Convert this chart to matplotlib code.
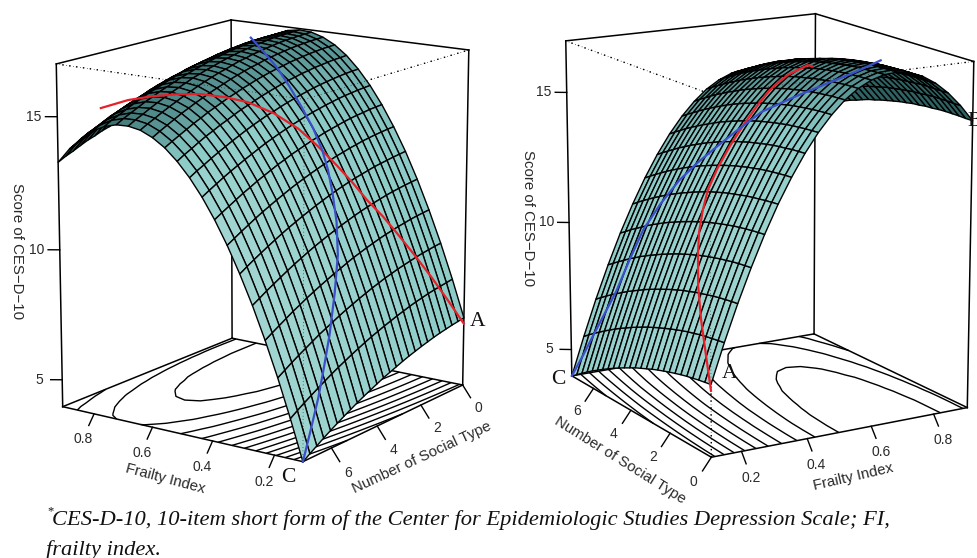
import numpy as np
import matplotlib
matplotlib.use("Agg")
import matplotlib.pyplot as plt
from matplotlib.colors import LinearSegmentedColormap

W, H = 977, 558

# ─── Data ───────────────────────────────────────────────────────────
frailty = [0.11, 0.15, 0.19, 0.23, 0.27, 0.31, 0.35, 0.39, 0.43, 0.47, 0.51,
           0.55, 0.59, 0.63, 0.67, 0.71, 0.75, 0.79, 0.83, 0.87, 0.91]
social = [0.0, 0.288, 0.576, 0.864, 1.152, 1.44, 1.728, 2.016, 2.304, 2.592, 2.88, 3.168, 3.456,
          3.744, 4.032, 4.32, 4.608, 4.896, 5.184, 5.472, 5.76, 6.048, 6.336, 6.624, 6.912, 7.2]

# one row per frailty value, one column per number of social types
score = [
    [6.62, 6.58, 6.54, 6.49, 6.44, 6.38, 6.31, 6.24, 6.16, 6.08, 5.99, 5.89, 5.79, 5.69, 5.57, 5.45, 5.33, 5.20, 5.06, 4.92, 4.77, 4.62, 4.46, 4.29, 4.12, 3.94],
    [8.06, 8.02, 7.98, 7.94, 7.89, 7.83, 7.77, 7.70, 7.62, 7.54, 7.45, 7.36, 7.26, 7.16, 7.05, 6.93, 6.81, 6.68, 6.55, 6.41, 6.26, 6.11, 5.95, 5.79, 5.62, 5.44],
    [9.39, 9.36, 9.32, 9.28, 9.23, 9.17, 9.11, 9.05, 8.97, 8.90, 8.81, 8.72, 8.62, 8.52, 8.41, 8.30, 8.18, 8.05, 7.92, 7.79, 7.64, 7.49, 7.34, 7.18, 7.01, 6.84],
    [10.61, 10.58, 10.55, 10.51, 10.46, 10.41, 10.35, 10.29, 10.22, 10.14, 10.06, 9.97, 9.88, 9.78, 9.67, 9.56, 9.44, 9.32, 9.19, 9.06, 8.91, 8.77, 8.61, 8.45, 8.29, 8.12],
    [11.73, 11.70, 11.67, 11.63, 11.59, 11.54, 11.48, 11.42, 11.35, 11.28, 11.20, 11.11, 11.02, 10.92, 10.82, 10.71, 10.60, 10.48, 10.35, 10.22, 10.08, 9.93, 9.78, 9.63, 9.46, 9.30],
    [12.74, 12.71, 12.68, 12.64, 12.60, 12.56, 12.50, 12.44, 12.38, 12.31, 12.23, 12.15, 12.06, 11.96, 11.86, 11.75, 11.64, 11.52, 11.40, 11.27, 11.13, 10.99, 10.84, 10.69, 10.53, 10.36],
    [13.63, 13.61, 13.58, 13.55, 13.51, 13.47, 13.41, 13.36, 13.29, 13.23, 13.15, 13.07, 12.98, 12.89, 12.79, 12.69, 12.58, 12.46, 12.34, 12.21, 12.08, 11.94, 11.79, 11.64, 11.48, 11.32],
    [14.42, 14.40, 14.38, 14.34, 14.31, 14.27, 14.22, 14.16, 14.10, 14.04, 13.96, 13.89, 13.80, 13.71, 13.62, 13.51, 13.41, 13.29, 13.17, 13.05, 12.91, 12.78, 12.63, 12.48, 12.33, 12.17],
    [15.10, 15.08, 15.06, 15.03, 15.00, 14.96, 14.91, 14.86, 14.80, 14.74, 14.67, 14.59, 14.51, 14.42, 14.33, 14.23, 14.13, 14.01, 13.89, 13.77, 13.64, 13.51, 13.37, 13.22, 13.07, 12.91],
    [15.67, 15.66, 15.64, 15.61, 15.58, 15.54, 15.50, 15.45, 15.39, 15.33, 15.26, 15.19, 15.11, 15.02, 14.94, 14.84, 14.74, 14.63, 14.51, 14.39, 14.26, 14.13, 13.99, 13.84, 13.70, 13.54],
    [16.14, 16.12, 16.11, 16.08, 16.05, 16.02, 15.97, 15.93, 15.87, 15.82, 15.75, 15.68, 15.60, 15.52, 15.43, 15.33, 15.24, 15.13, 15.01, 14.90, 14.77, 14.65, 14.51, 14.36, 14.22, 14.06],
    [16.49, 16.48, 16.47, 16.44, 16.42, 16.38, 16.34, 16.30, 16.24, 16.19, 16.13, 16.06, 15.99, 15.90, 15.82, 15.72, 15.63, 15.52, 15.41, 15.30, 15.17, 15.05, 14.91, 14.77, 14.63, 14.48],
    [16.73, 16.72, 16.71, 16.69, 16.67, 16.64, 16.60, 16.56, 16.51, 16.46, 16.39, 16.33, 16.26, 16.18, 16.10, 16.00, 15.91, 15.81, 15.70, 15.59, 15.47, 15.35, 15.21, 15.07, 14.93, 14.78],
    [16.87, 16.86, 16.85, 16.83, 16.82, 16.79, 16.75, 16.71, 16.66, 16.62, 16.55, 16.50, 16.42, 16.34, 16.27, 16.18, 16.09, 15.99, 15.88, 15.77, 15.65, 15.53, 15.40, 15.26, 15.13, 14.98],
    [16.90, 16.89, 16.88, 16.87, 16.86, 16.83, 16.79, 16.76, 16.71, 16.67, 16.61, 16.55, 16.48, 16.40, 16.33, 16.24, 16.16, 16.05, 15.95, 15.85, 15.73, 15.61, 15.48, 15.34, 15.21, 15.06],
    [16.82, 16.81, 16.80, 16.79, 16.78, 16.76, 16.72, 16.69, 16.65, 16.61, 16.55, 16.50, 16.43, 16.35, 16.28, 16.19, 16.11, 16.01, 15.91, 15.81, 15.69, 15.58, 15.45, 15.32, 15.19, 15.04],
    [16.63, 16.62, 16.62, 16.61, 16.60, 16.58, 16.55, 16.52, 16.48, 16.44, 16.38, 16.33, 16.27, 16.19, 16.13, 16.04, 15.96, 15.86, 15.76, 15.67, 15.55, 15.44, 15.31, 15.18, 15.06, 14.91],
    [16.33, 16.32, 16.32, 16.32, 16.31, 16.29, 16.26, 16.24, 16.19, 16.16, 16.11, 16.06, 16.00, 15.92, 15.86, 15.78, 15.70, 15.61, 15.50, 15.41, 15.30, 15.19, 15.07, 14.94, 14.81, 14.67],
    [15.92, 15.92, 15.92, 15.92, 15.92, 15.89, 15.87, 15.85, 15.81, 15.78, 15.72, 15.68, 15.62, 15.55, 15.49, 15.40, 15.33, 15.24, 15.14, 15.05, 14.94, 14.84, 14.71, 14.58, 14.46, 14.32],
    [15.40, 15.40, 15.41, 15.41, 15.41, 15.39, 15.36, 15.35, 15.31, 15.28, 15.23, 15.19, 15.13, 15.06, 15.00, 14.92, 14.86, 14.76, 14.67, 14.58, 14.47, 14.37, 14.25, 14.12, 14.01, 13.87],
    [14.78, 14.78, 14.79, 14.79, 14.79, 14.78, 14.75, 14.74, 14.70, 14.68, 14.63, 14.59, 14.53, 14.47, 14.41, 14.33, 14.27, 14.18, 14.08, 14.00, 13.89, 13.80, 13.68, 13.55, 13.44, 13.30],
]

red_f = [0.11, 0.128, 0.147, 0.17, 0.198, 0.22, 0.25, 0.28, 0.32, 0.37, 0.42, 0.48, 0.54, 0.59, 0.645, 0.695, 0.745, 0.79, 0.84]
red_s = [0.0, 0.52, 1.05, 1.55, 2.0, 2.3, 2.6, 2.82, 3.0, 3.18, 3.35, 3.62, 3.95, 4.25, 4.6, 4.95, 5.35, 5.8, 6.3]
red_z = [6.39, 7.45, 8.5, 9.5, 10.45, 11.1, 11.75, 12.4, 13.05, 13.75, 14.35, 14.9, 15.3, 15.48, 15.6, 15.6, 15.55, 15.45, 15.2]
blue_f = [0.11, 0.12, 0.13, 0.143, 0.156, 0.173, 0.193, 0.225, 0.262, 0.30, 0.34, 0.39, 0.448, 0.52, 0.592, 0.66, 0.724]
blue_s = [7.2, 6.75, 6.3, 5.88, 5.49, 5.05, 4.65, 4.28, 3.96, 3.65, 3.37, 3.1, 2.85, 2.43, 2.03, 1.72, 1.48]
blue_z = [3.95, 4.9, 5.9, 6.9, 7.85, 9.2, 10.45, 11.5, 12.4, 13.1, 13.7, 14.35, 15.0, 15.55, 16.04, 16.45, 16.86]

f_ticks = [0.2, 0.4, 0.6, 0.8]
s_ticks = [0, 2, 4, 6]
z_ticks = [5, 10, 15]
levels = [5, 6, 7, 8, 9, 10, 11, 12, 13, 14, 15, 16]

# ─── Styling ────────────────────────────────────────────────────────
zlo, zhi = 3.95, 16.95
plt.rcParams["font.family"] = "Liberation Sans"
fig = plt.figure(figsize=(W / 100, H / 100), dpi=100)
cmap = LinearSegmentedColormap.from_list("teal", [(0, "#2f6262"), (0.3, "#3b7070"), (0.72, "#5c9898"),
                                                  (0.82, "#8ccbc7"), (0.93, "#c5e6e4"), (1, "#d0ecea")])
TXT = "#2a2a2a"
F, S = np.meshgrid(frailty, social, indexing="ij")
Z = np.array(score)


def px(x, y):
    return x / W, 1 - y / H


def panel(cx, cy, size, azim, elev, light, fnear, snear, corner, tick_dir):
    ax = fig.add_axes([(cx - size / 2) / W, 1 - (cy + size / 2) / H, size / W, size / H],
                      projection="3d", computed_zorder=False)
    ax.patch.set_alpha(0)
    ax.set_axis_off()
    ax.view_init(elev=elev, azim=azim)
    ax.set_box_aspect((1, 1, 1.2))
    f0, f1, s0, s1 = frailty[0], frailty[-1], social[0], social[-1]
    ax.set_xlim(f0, f1)
    ax.set_ylim(s0, s1)
    ax.set_zlim(zlo, zhi)
    ffar = f0 + f1 - fnear
    sfar = s0 + s1 - snear
    fr, sr, zr = f1 - f0, s1 - s0, zhi - zlo

    # facet colour comes from the slope towards a light
    zx, zy = np.gradient(Z / zr * 1.2, np.array(frailty) / fr, np.array(social) / sr)
    norm = np.sqrt(zx ** 2 + zy ** 2 + 1)
    t = (-zx * light[0] - zy * light[1] + light[2]) / norm
    ax.plot_surface(F, S, Z, facecolors=cmap(np.clip(t, 0, 1)), rstride=1, cstride=1,
                    shade=False, edgecolor="k", linewidth=1.0, zorder=3)
    ax.contour(F, S, Z, levels=levels, zdir="z", offset=zlo, colors="k", linewidths=1.0, zorder=2)

    # box
    box = dict(color="k", lw=1.1, zorder=1)
    for a, b in [((fnear, snear), (ffar, snear)), ((fnear, snear), (fnear, sfar)),
                 ((ffar, sfar), (ffar, snear)), ((ffar, sfar), (fnear, sfar))]:
        ax.plot([a[0], b[0]], [a[1], b[1]], [zlo, zlo], **box)
    for a, b in [((ffar, sfar), (ffar, snear)), ((ffar, sfar), (fnear, sfar))]:
        ax.plot([a[0], b[0]], [a[1], b[1]], [zhi, zhi], **box)
    for a in [(ffar, sfar), (ffar, snear), (fnear, sfar)]:
        ax.plot([a[0]] * 2, [a[1]] * 2, [zlo, zhi], **box)
    for z_order, lw in [(1, 1.0), (5, 0.5)]:
        dots = dict(color="k", lw=lw, ls=(0, (1, 4)), zorder=z_order)
        ax.plot([fnear, fnear], [snear, snear], [zlo, zhi], **dots)
        ax.plot([fnear, ffar], [snear, snear], [zhi, zhi], **dots)
        ax.plot([fnear, fnear], [snear, sfar], [zhi, zhi], **dots)

    ax.plot(red_f, red_s, red_z, color="#e8202a", lw=1.6, zorder=6)
    ax.plot(blue_f, blue_s, blue_z, color="#3a4fc8", lw=1.6, zorder=6)

    # ticks
    sgn_s = 1 if snear > s0 else -1
    sgn_f = 1 if fnear > f0 else -1
    for v in f_ticks:
        ax.plot([v, v], [snear, snear + sgn_s * 0.03 * sr], [zlo, zlo - 0.028 * zr], color="k", lw=1.0, zorder=4)
        ax.text(v, snear + sgn_s * 0.06 * sr, zlo - 0.062 * zr, "%.1f" % v, ha="center", va="center",
                fontsize=10, color=TXT, zorder=7)
    for v in s_ticks:
        ax.plot([fnear, fnear + sgn_f * 0.033 * fr], [v, v], [zlo, zlo - 0.034 * zr], color="k", lw=1.0, zorder=4)
        ax.text(fnear + sgn_f * 0.066 * fr, v, zlo - 0.06 * zr, str(v), ha="center", va="center",
                fontsize=10, color=TXT, zorder=7)
    cf, cs = corner
    df = tick_dir[0] * 0.033 * fr
    ds = tick_dir[1] * 0.022 * sr
    for v in z_ticks:
        ax.plot([cf, cf + df], [cs, cs + ds], [v, v], color="k", lw=1.0, zorder=4)
        ax.text(cf + 2.0 * df, cs + 2.0 * ds, v, str(v), ha="center", va="center",
                fontsize=10, color=TXT, zorder=7)
    return ax


panel(258, 236, 525, 125, 14.5, (-0.75, 0.4, 0.30), 0.11, 7.2, (0.91, 7.2), (1, 1))
panel(759, 231, 528, 239.5, 14.7, (-0.8, -0.1, 0.30), 0.11, 0.0, (0.11, 7.2), (-1, 1))

# ─── Axis titles, corner letters, footnote ──────────────────────────
labels = [
    (17, 251, "Score of CES\u2212D\u221210", -90),
    (165, 479, "Frailty Index", -15),
    (422, 458, "Number of Social Type", 25),
    (528, 218, "Score of CES\u2212D\u221210", -90),
    (620, 460, "Number of Social Type", -32),
    (853, 477, "Frailty Index", 13),
]
for x, y, s, r in labels:
    xf, yf = px(x, y)
    fig.text(xf, yf, s, rotation=r, ha="center", va="center", fontsize=10.8, color=TXT, rotation_mode="anchor")

for x, y, s in [(478, 321, "A"), (288, 477, "C"), (730, 374, "A"), (558, 379, "C"), (975, 121, "B")]:
    xf, yf = px(x, y)
    fig.text(xf, yf, s, ha="center", va="center", fontsize=15.5, family="Liberation Serif", color="#111111")

xf, yf = px(47, 511)
fig.text(xf, yf, "*", fontsize=9, family="Liberation Serif", color="#111111", va="center")
for x, y, s in [(52, 525, "CES-D-10, 10-item short form of the Center for Epidemiologic Studies Depression Scale; FI,"),
                (46, 555, "frailty index.")]:
    xf, yf = px(x, y)
    fig.text(xf, yf, s, fontsize=16.2, family="Liberation Serif", style="italic", color="#111111", va="baseline")

fig.savefig("out.png", dpi=100)
